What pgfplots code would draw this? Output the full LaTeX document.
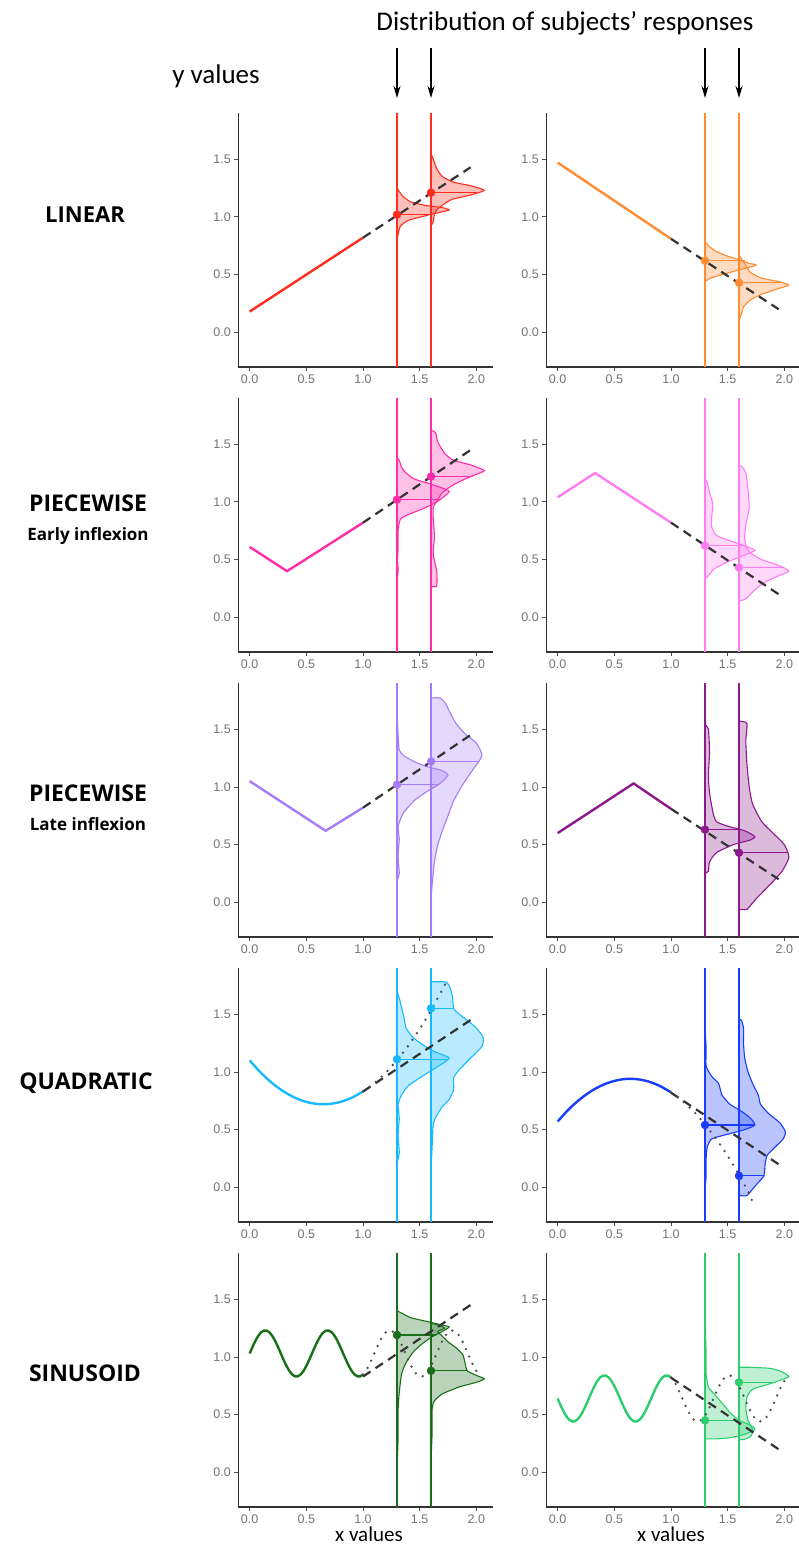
\documentclass[border=0pt]{standalone}
\usepackage{pgfplots}
\pgfplotsset{compat=1.18}
\usepackage{fontspec}
\setmainfont{Carlito}
\setsansfont{Liberation Sans}
\newfontfamily\labfont{Open Sans}
\usetikzlibrary{arrows.meta}

\definecolor{cA}{RGB}{255,45,30}
\definecolor{cB}{RGB}{255,140,50}
\definecolor{cC}{RGB}{255,45,170}
\definecolor{cD}{RGB}{255,125,240}
\definecolor{cE}{RGB}{165,125,250}
\definecolor{cF}{RGB}{140,25,140}
\definecolor{cG}{RGB}{25,185,255}
\definecolor{cH}{RGB}{25,60,255}
\definecolor{cI}{RGB}{25,110,25}
\definecolor{cJ}{RGB}{45,205,110}

\pgfplotsset{
  panel/.style={
    scale only axis, width=255pt, height=254pt,
    anchor=south west,
    xmin=-0.1, xmax=2.15, ymin=-0.3, ymax=1.9,
    axis x line*=bottom, axis y line*=left,
    x axis line style={-}, y axis line style={-},
    axis line style={black!80, line width=1.4pt},
    xtick={0,0.5,1,1.5,2}, ytick={0,0.5,1,1.5},
    tick align=outside, major tick length=4pt,
    tick style={black!70, line width=0.8pt},
    ticklabel style={font=\fontsize{12.5}{13}\selectfont\sffamily, text=black!55},
    xticklabel style={/pgf/number format/fixed, /pgf/number format/fixed zerofill, /pgf/number format/precision=1},
    yticklabel style={/pgf/number format/fixed, /pgf/number format/fixed zerofill, /pgf/number format/precision=1},
    /pgf/number format/assume math mode=true,
  },
  fnl/.style={color=#1, line width=2.4pt},
  vln/.style={draw=#1, color=#1, line width=1.8pt},
  vio/.style={draw=#1, fill=#1, fill opacity=0.3, line width=1.1pt, smooth, tension=0.35},
  med/.style={color=#1, line width=1.1pt},
  dotm/.style={color=#1, only marks, mark=*, mark size=4pt},
  dsh/.style={black!80, line width=2.2pt, dash pattern=on 9pt off 6pt},
  dtt/.style={black!70, line width=2.6pt, line cap=round, dash pattern=on 0pt off 8pt},
}

\begin{document}
\begin{tikzpicture}[x=1pt,y=1pt]
\useasboundingbox (0,0) rectangle (799,1548);

% ---------- Row 1 left: LINEAR ----------
\begin{axis}[panel, at={(238.33pt,1181pt)}]
\addplot[fnl=cA] coordinates {(0,0.18) (1,0.82)};
\addplot[vln=cA] coordinates {(1.3,-0.3) (1.3,1.9)};
\addplot[vln=cA] coordinates {(1.6,-0.3) (1.6,1.9)};
\addplot[vio=cA] coordinates {(1.30,0.80) (1.31,0.85) (1.33,0.92) (1.40,0.97) (1.55,1.01) (1.68,1.04) (1.76,1.06) (1.70,1.08) (1.55,1.10) (1.42,1.13) (1.35,1.18) (1.32,1.22) (1.30,1.25)};
\addplot[vio=cA] coordinates {(1.60,0.92) (1.62,0.96) (1.63,1.02) (1.65,1.06) (1.70,1.10) (1.78,1.15) (1.95,1.19) (2.07,1.23) (1.95,1.27) (1.80,1.30) (1.70,1.35) (1.65,1.42) (1.62,1.50) (1.60,1.55)};
\addplot[med=cA] coordinates {(1.3,1.02) (1.59,1.02)};
\addplot[med=cA] coordinates {(1.6,1.21) (2.01,1.21)};
\addplot[dsh] coordinates {(1,0.82) (1.95,1.43)};
\addplot[dotm=cA] coordinates {(1.3,1.02) (1.6,1.21)};
\end{axis}

% ---------- Row 1 right ----------
\begin{axis}[panel, at={(546.33pt,1181pt)}]
\addplot[fnl=cB] coordinates {(0,1.47) (1,0.81)};
\addplot[vln=cB] coordinates {(1.3,-0.3) (1.3,1.9)};
\addplot[vln=cB] coordinates {(1.6,-0.3) (1.6,1.9)};
\addplot[vio=cB] coordinates {(1.30,0.44) (1.35,0.47) (1.45,0.50) (1.60,0.54) (1.72,0.57) (1.75,0.585) (1.68,0.60) (1.60,0.63) (1.50,0.66) (1.40,0.70) (1.33,0.75) (1.30,0.79)};
\addplot[vio=cB] coordinates {(1.60,0.11) (1.62,0.15) (1.64,0.22) (1.70,0.28) (1.80,0.33) (1.95,0.38) (2.04,0.41) (1.95,0.44) (1.80,0.47) (1.70,0.52) (1.66,0.58) (1.62,0.64) (1.60,0.67)};
\addplot[med=cB] coordinates {(1.3,0.62) (1.65,0.62)};
\addplot[med=cB] coordinates {(1.6,0.43) (1.98,0.43)};
\addplot[dsh] coordinates {(1,0.81) (1.95,0.20)};
\addplot[dotm=cB] coordinates {(1.3,0.62) (1.6,0.43)};
\end{axis}

% ---------- Row 2 left: PIECEWISE early ----------
\begin{axis}[panel, at={(238.33pt,896pt)}]
\addplot[fnl=cC] coordinates {(0,0.61) (0.33,0.40) (1,0.82)};
\addplot[vln=cC] coordinates {(1.3,-0.3) (1.3,1.9)};
\addplot[vln=cC] coordinates {(1.6,-0.3) (1.6,1.9)};
\addplot[vio=cC] coordinates {(1.30,0.33) (1.31,0.40) (1.305,0.50) (1.31,0.60) (1.31,0.75) (1.33,0.85) (1.40,0.89) (1.55,0.95) (1.65,1.00) (1.72,1.05) (1.76,1.09) (1.70,1.12) (1.58,1.16) (1.45,1.20) (1.38,1.25) (1.34,1.30) (1.32,1.36) (1.30,1.38)};
\addplot[vio=cC] coordinates {(1.60,0.27) (1.65,0.27) (1.65,0.40) (1.62,0.55) (1.63,0.70) (1.62,0.85) (1.62,0.95) (1.66,1.02) (1.70,1.08) (1.80,1.15) (1.95,1.22) (2.07,1.27) (1.95,1.32) (1.80,1.36) (1.72,1.42) (1.66,1.52) (1.64,1.60) (1.60,1.62)};
\addplot[med=cC] coordinates {(1.3,1.02) (1.68,1.02)};
\addplot[med=cC] coordinates {(1.6,1.22) (1.97,1.22)};
\addplot[dsh] coordinates {(1,0.82) (1.95,1.45)};
\addplot[dotm=cC] coordinates {(1.3,1.02) (1.6,1.22)};
\end{axis}

% ---------- Row 2 right ----------
\begin{axis}[panel, at={(546.33pt,896pt)}]
\addplot[fnl=cD] coordinates {(0,1.04) (0.33,1.25) (1,0.82)};
\addplot[vln=cD] coordinates {(1.3,-0.3) (1.3,1.9)};
\addplot[vln=cD] coordinates {(1.6,-0.3) (1.6,1.9)};
\addplot[vio=cD] coordinates {(1.30,0.33) (1.33,0.36) (1.38,0.42) (1.50,0.48) (1.65,0.54) (1.74,0.58) (1.65,0.62) (1.50,0.67) (1.40,0.71) (1.36,0.78) (1.36,0.88) (1.37,0.98) (1.34,1.08) (1.32,1.17) (1.30,1.20)};
\addplot[vio=cD] coordinates {(1.60,0.14) (1.66,0.16) (1.72,0.22) (1.82,0.30) (1.95,0.36) (2.04,0.40) (1.95,0.45) (1.80,0.50) (1.70,0.56) (1.66,0.62) (1.65,0.70) (1.66,0.80) (1.69,0.95) (1.68,1.10) (1.66,1.25) (1.62,1.31) (1.60,1.31)};
\addplot[med=cD] coordinates {(1.3,0.62) (1.65,0.62)};
\addplot[med=cD] coordinates {(1.6,0.43) (1.99,0.43)};
\addplot[dsh] coordinates {(1,0.82) (1.95,0.20)};
\addplot[dotm=cD] coordinates {(1.3,0.62) (1.6,0.43)};
\end{axis}

% ---------- Row 3 left: PIECEWISE late ----------
\begin{axis}[panel, at={(238.33pt,611pt)}]
\addplot[fnl=cE] coordinates {(0,1.05) (0.67,0.62) (1,0.82)};
\addplot[vln=cE] coordinates {(1.3,-0.3) (1.3,1.9)};
\addplot[vln=cE] coordinates {(1.6,-0.3) (1.6,1.9)};
\addplot[vio=cE] coordinates {(1.30,0.19) (1.32,0.25) (1.31,0.40) (1.32,0.55) (1.31,0.65) (1.33,0.72) (1.36,0.78) (1.45,0.88) (1.55,0.95) (1.68,1.03) (1.75,1.10) (1.70,1.14) (1.55,1.18) (1.45,1.22) (1.36,1.27) (1.32,1.32) (1.31,1.45) (1.30,1.64)};
\addplot[vio=cE] coordinates {(1.60,0.01) (1.61,0.15) (1.63,0.35) (1.66,0.50) (1.70,0.62) (1.75,0.75) (1.80,0.88) (1.88,1.02) (1.97,1.15) (2.05,1.27) (2.00,1.38) (1.90,1.46) (1.82,1.55) (1.76,1.66) (1.73,1.72) (1.68,1.77) (1.60,1.77)};
\addplot[med=cE] coordinates {(1.3,1.02) (1.66,1.02)};
\addplot[med=cE] coordinates {(1.6,1.22) (2.02,1.22)};
\addplot[dsh] coordinates {(1,0.82) (1.95,1.45)};
\addplot[dotm=cE] coordinates {(1.3,1.02) (1.6,1.22)};
\end{axis}

% ---------- Row 3 right ----------
\begin{axis}[panel, at={(546.33pt,611pt)}]
\addplot[fnl=cF] coordinates {(0,0.60) (0.67,1.03) (1,0.81)};
\addplot[vln=cF] coordinates {(1.3,-0.3) (1.3,1.9)};
\addplot[vln=cF] coordinates {(1.6,-0.3) (1.6,1.9)};
\addplot[vio=cF] coordinates {(1.30,0.25) (1.33,0.27) (1.34,0.35) (1.40,0.43) (1.55,0.50) (1.70,0.54) (1.74,0.57) (1.65,0.62) (1.50,0.66) (1.40,0.70) (1.37,0.78) (1.34,0.95) (1.33,1.10) (1.34,1.30) (1.33,1.50) (1.30,1.54)};
\addplot[vio=cF] coordinates {(1.60,-0.06) (1.67,-0.06) (1.75,0.03) (1.87,0.15) (1.98,0.27) (2.04,0.39) (2.00,0.50) (1.90,0.60) (1.80,0.70) (1.72,0.85) (1.69,1.00) (1.67,1.20) (1.66,1.40) (1.67,1.55) (1.60,1.57)};
\addplot[med=cF] coordinates {(1.3,0.63) (1.61,0.63)};
\addplot[med=cF] coordinates {(1.6,0.43) (2.03,0.43)};
\addplot[dsh] coordinates {(1,0.81) (1.95,0.20)};
\addplot[dotm=cF] coordinates {(1.3,0.63) (1.6,0.43)};
\end{axis}

% ---------- Row 4 left: QUADRATIC ----------
\begin{axis}[panel, at={(238.33pt,326pt)}]
\addplot[fnl=cG, smooth] coordinates {(0,1.10) (0.1,0.992) (0.2,0.902) (0.3,0.830) (0.4,0.776) (0.5,0.740) (0.6,0.722) (0.7,0.722) (0.8,0.740) (0.9,0.776) (1.0,0.830)};
\addplot[vln=cG] coordinates {(1.3,-0.3) (1.3,1.9)};
\addplot[vln=cG] coordinates {(1.6,-0.3) (1.6,1.9)};
\addplot[vio=cG] coordinates {(1.30,0.21) (1.32,0.30) (1.31,0.45) (1.32,0.60) (1.31,0.72) (1.34,0.80) (1.40,0.88) (1.52,0.96) (1.65,1.04) (1.76,1.12) (1.62,1.18) (1.52,1.24) (1.44,1.30) (1.38,1.38) (1.36,1.48) (1.34,1.56) (1.32,1.64) (1.30,1.70)};
\addplot[vio=cG] coordinates {(1.60,0.14) (1.61,0.35) (1.62,0.55) (1.65,0.62) (1.70,0.70) (1.76,0.76) (1.80,0.85) (1.80,0.95) (1.85,1.02) (1.95,1.12) (2.05,1.22) (2.06,1.30) (2.00,1.38) (1.93,1.44) (1.85,1.50) (1.80,1.55) (1.79,1.65) (1.76,1.75) (1.72,1.78) (1.60,1.78)};
\addplot[med=cG] coordinates {(1.3,1.11) (1.74,1.11)};
\addplot[med=cG] coordinates {(1.6,1.55) (1.80,1.55)};
\addplot[dsh] coordinates {(1,0.83) (1.95,1.45)};
\addplot[dtt] coordinates {(1.0,0.83) (1.1,0.902) (1.2,0.992) (1.3,1.10) (1.4,1.226) (1.5,1.37) (1.6,1.532) (1.7,1.712) (1.74,1.79)};
\addplot[dotm=cG] coordinates {(1.3,1.11) (1.6,1.55)};
\end{axis}

% ---------- Row 4 right ----------
\begin{axis}[panel, at={(546.33pt,326pt)}]
\addplot[fnl=cH, smooth] coordinates {(0,0.571) (0.1,0.678) (0.2,0.766) (0.3,0.836) (0.4,0.888) (0.5,0.922) (0.6,0.939) (0.7,0.937) (0.8,0.917) (0.9,0.879) (1.0,0.823)};
\addplot[vln=cH] coordinates {(1.3,-0.3) (1.3,1.9)};
\addplot[vln=cH] coordinates {(1.6,-0.3) (1.6,1.9)};
\addplot[vio=cH] coordinates {(1.30,-0.01) (1.31,0.10) (1.31,0.25) (1.32,0.35) (1.36,0.42) (1.50,0.46) (1.65,0.50) (1.74,0.54) (1.70,0.60) (1.62,0.66) (1.52,0.72) (1.45,0.80) (1.42,0.90) (1.36,0.96) (1.31,1.05) (1.31,1.20) (1.30,1.38)};
\addplot[vio=cH] coordinates {(1.60,-0.07) (1.67,-0.07) (1.75,0.02) (1.82,0.10) (1.83,0.20) (1.85,0.28) (1.92,0.35) (1.99,0.42) (2.01,0.48) (1.96,0.56) (1.86,0.64) (1.79,0.72) (1.77,0.80) (1.72,0.90) (1.68,1.00) (1.65,1.12) (1.64,1.25) (1.64,1.38) (1.62,1.45) (1.60,1.45)};
\addplot[med=cH] coordinates {(1.3,0.54) (1.74,0.54)};
\addplot[med=cH] coordinates {(1.6,0.10) (1.82,0.10)};
\addplot[dsh] coordinates {(1,0.82) (1.95,0.20)};
\addplot[dtt] coordinates {(1.0,0.823) (1.1,0.750) (1.2,0.658) (1.3,0.548) (1.4,0.42) (1.5,0.274) (1.6,0.111) (1.7,-0.071) (1.72,-0.13)};
\addplot[dotm=cH] coordinates {(1.3,0.54) (1.6,0.10)};
\end{axis}

% ---------- Row 5 left: SINUSOID ----------
\begin{axis}[panel, at={(238.33pt,41pt)}]
\addplot[fnl=cI, smooth] coordinates {(0,1.030) (0.025,1.086) (0.05,1.138) (0.075,1.181) (0.1,1.212) (0.125,1.228) (0.15,1.228) (0.175,1.212) (0.2,1.181) (0.225,1.138) (0.25,1.086) (0.275,1.030) (0.3,0.974) (0.325,0.922) (0.35,0.879) (0.375,0.848) (0.4,0.832) (0.425,0.832) (0.45,0.848) (0.475,0.879) (0.5,0.922) (0.525,0.974) (0.55,1.030) (0.575,1.086) (0.6,1.138) (0.625,1.181) (0.65,1.212) (0.675,1.228) (0.7,1.228) (0.725,1.212) (0.75,1.181) (0.775,1.138) (0.8,1.086) (0.825,1.030) (0.85,0.974) (0.875,0.922) (0.9,0.879) (0.925,0.848) (0.95,0.832) (0.975,0.832) (1.0,0.848)};
\addplot[vln=cI] coordinates {(1.3,-0.3) (1.3,1.9)};
\addplot[vln=cI] coordinates {(1.6,-0.3) (1.6,1.9)};
\addplot[vio=cI] coordinates {(1.30,0.05) (1.31,0.30) (1.31,0.55) (1.32,0.69) (1.34,0.85) (1.38,0.95) (1.45,1.05) (1.53,1.12) (1.62,1.18) (1.70,1.22) (1.76,1.26) (1.68,1.28) (1.55,1.31) (1.42,1.34) (1.34,1.38) (1.30,1.40)};
\addplot[vio=cI] coordinates {(1.60,0.10) (1.61,0.35) (1.61,0.55) (1.63,0.62) (1.70,0.68) (1.85,0.74) (2.00,0.78) (2.07,0.81) (2.00,0.84) (1.92,0.88) (1.90,0.95) (1.88,1.02) (1.82,1.08) (1.75,1.13) (1.70,1.18) (1.66,1.22) (1.72,1.25) (1.65,1.28) (1.60,1.29)};
\addplot[med=cI] coordinates {(1.3,1.19) (1.64,1.19)};
\addplot[med=cI] coordinates {(1.6,0.88) (1.92,0.88)};
\addplot[dsh] coordinates {(1,0.83) (1.95,1.45)};
\addplot[dtt, smooth] coordinates {(1.0,0.848) (1.025,0.879) (1.05,0.922) (1.075,0.974) (1.1,1.030) (1.125,1.086) (1.15,1.138) (1.175,1.181) (1.2,1.212) (1.225,1.228) (1.25,1.228) (1.275,1.212) (1.3,1.181) (1.325,1.138) (1.35,1.086) (1.375,1.030) (1.4,0.974) (1.425,0.922) (1.45,0.879) (1.475,0.848) (1.5,0.832) (1.525,0.832) (1.55,0.848) (1.575,0.879) (1.6,0.922) (1.625,0.974) (1.65,1.030) (1.675,1.086) (1.7,1.138) (1.725,1.181) (1.75,1.212) (1.775,1.228) (1.8,1.228) (1.825,1.212) (1.85,1.181) (1.875,1.138) (1.9,1.086) (1.925,1.030) (1.95,0.974) (1.975,0.922) (2.0,0.879)};
\addplot[dotm=cI] coordinates {(1.3,1.19) (1.6,0.88)};
\end{axis}

% ---------- Row 5 right ----------
\begin{axis}[panel, at={(546.33pt,41pt)}]
\addplot[fnl=cJ, smooth] coordinates {(0,0.640) (0.025,0.584) (0.05,0.532) (0.075,0.489) (0.1,0.458) (0.125,0.442) (0.15,0.442) (0.175,0.458) (0.2,0.489) (0.225,0.532) (0.25,0.584) (0.275,0.640) (0.3,0.696) (0.325,0.748) (0.35,0.791) (0.375,0.822) (0.4,0.838) (0.425,0.838) (0.45,0.822) (0.475,0.791) (0.5,0.748) (0.525,0.696) (0.55,0.640) (0.575,0.584) (0.6,0.532) (0.625,0.489) (0.65,0.458) (0.675,0.442) (0.7,0.442) (0.725,0.458) (0.75,0.489) (0.775,0.532) (0.8,0.584) (0.825,0.640) (0.85,0.696) (0.875,0.748) (0.9,0.791) (0.925,0.822) (0.95,0.838) (0.975,0.838) (1.0,0.822)};
\addplot[vln=cJ] coordinates {(1.3,-0.3) (1.3,1.9)};
\addplot[vln=cJ] coordinates {(1.6,-0.3) (1.6,1.9)};
\addplot[vio=cJ] coordinates {(1.30,0.29) (1.40,0.29) (1.52,0.30) (1.65,0.33) (1.74,0.37) (1.70,0.41) (1.60,0.45) (1.52,0.52) (1.45,0.60) (1.38,0.68) (1.33,0.74) (1.31,0.85) (1.31,1.00) (1.305,1.20) (1.30,1.49)};
\addplot[vio=cJ] coordinates {(1.60,0.28) (1.66,0.29) (1.71,0.32) (1.72,0.37) (1.68,0.45) (1.66,0.55) (1.67,0.65) (1.72,0.72) (1.85,0.76) (1.97,0.80) (2.04,0.83) (1.98,0.87) (1.88,0.90) (1.70,0.91) (1.60,0.91)};
\addplot[med=cJ] coordinates {(1.3,0.45) (1.60,0.45)};
\addplot[med=cJ] coordinates {(1.6,0.78) (1.91,0.78)};
\addplot[dsh] coordinates {(1,0.82) (1.95,0.20)};
\addplot[dtt, smooth] coordinates {(1.0,0.822) (1.025,0.791) (1.05,0.748) (1.075,0.696) (1.1,0.640) (1.125,0.584) (1.15,0.532) (1.175,0.489) (1.2,0.458) (1.225,0.442) (1.25,0.442) (1.275,0.458) (1.3,0.489) (1.325,0.532) (1.35,0.584) (1.375,0.640) (1.4,0.696) (1.425,0.748) (1.45,0.791) (1.475,0.822) (1.5,0.838) (1.525,0.838) (1.55,0.822) (1.575,0.791) (1.6,0.748) (1.625,0.696) (1.65,0.640) (1.675,0.584) (1.7,0.532) (1.725,0.489) (1.75,0.458) (1.775,0.442) (1.8,0.442) (1.825,0.458) (1.85,0.489) (1.875,0.532) (1.9,0.584) (1.925,0.640) (1.95,0.696) (1.975,0.748) (2.0,0.791)};
\addplot[dotm=cJ] coordinates {(1.3,0.45) (1.6,0.78)};
\end{axis}

% ---------- annotations ----------
\node[anchor=base, font=\fontsize{27}{30}\selectfont] at (565,1517) {Distribution of subjects’ responses};
\node[anchor=base, font=\fontsize{27}{30}\selectfont] at (216,1464) {y values};
\foreach \xx in {397,431,705,739}{
  \draw[line width=1.4pt, -{Stealth[length=12pt,width=7pt]}] (\xx,1500) -- (\xx,1450);
}
\node[anchor=base, font=\fontsize{21}{23}\selectfont] at (369,6) {x values};
\node[anchor=base, font=\fontsize{21}{23}\selectfont] at (671,6) {x values};

\node[font=\labfont\bfseries\fontsize{22}{24}\selectfont] at (85,1333) {LINEAR};
\node[font=\labfont\bfseries\fontsize{23}{24}\selectfont] at (88,1045) {PIECEWISE};
\node[anchor=base, font=\labfont\bfseries\fontsize{17}{20}\selectfont] at (88,1007) {Early inflexion};
\node[font=\labfont\bfseries\fontsize{23}{24}\selectfont] at (88,755) {PIECEWISE};
\node[anchor=base, font=\labfont\bfseries\fontsize{17}{20}\selectfont] at (88,717) {Late inflexion};
\node[font=\labfont\bfseries\fontsize{23}{24}\selectfont] at (86,465) {QUADRATIC};
\node[font=\labfont\bfseries\fontsize{23}{24}\selectfont] at (85,175) {SINUSOID};
\end{tikzpicture}
\end{document}
